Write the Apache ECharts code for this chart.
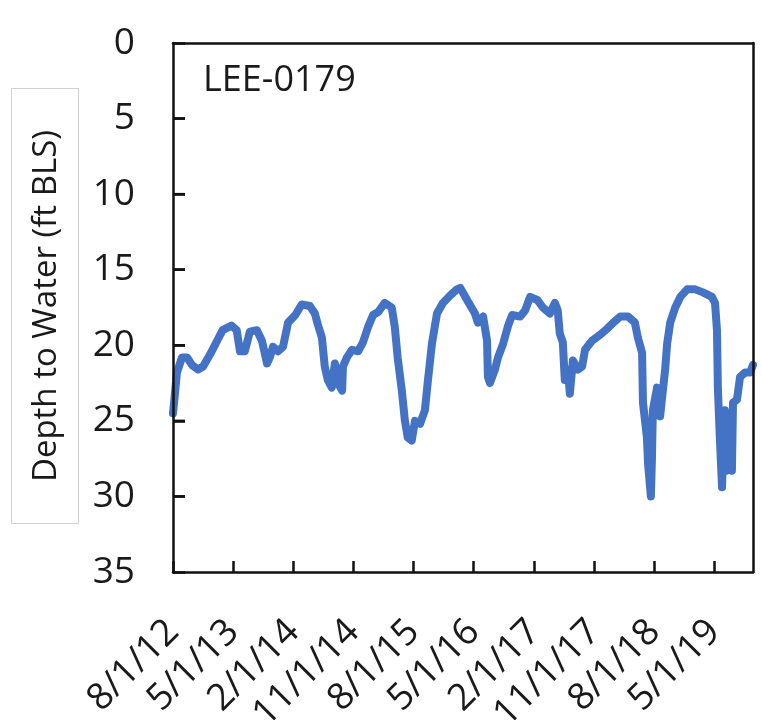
<!DOCTYPE html>
<html>
<head>
<meta charset="utf-8">
<script src="https://cdn.jsdelivr.net/npm/echarts@6/dist/echarts.min.js"></script>
<style>
html,body{margin:0;padding:0;background:#fff;}
#chart{width:762px;height:720px;}
</style>
</head>
<body>
<div id="chart"></div>
<script>
const wellName = 'LEE-0179';
const yTitle = 'Depth to Water (ft BLS)';
const xTickLabels = ['8/1/12','5/1/13','2/1/14','11/1/14','8/1/15','5/1/16','2/1/17','11/1/17','8/1/18','5/1/19'];
const xMinDate = '2012-08-01';
const xMaxDate = '2019-10-25';
const yMin = 0, yMax = 35, yStep = 5;

const dates = [
'2012-08-01','2012-08-19','2012-09-11','2012-10-04','2012-10-26','2012-11-23','2012-12-16','2013-01-17','2013-02-18','2013-03-15',
'2013-04-25','2013-05-18','2013-06-02','2013-06-24','2013-07-17','2013-08-18','2013-09-10','2013-10-03','2013-10-16','2013-10-30',
'2013-11-22','2013-12-15','2014-01-07','2014-02-09','2014-03-10','2014-04-16','2014-05-09','2014-05-22','2014-06-10','2014-06-23',
'2014-07-07','2014-07-25','2014-08-08','2014-08-22','2014-09-10','2014-09-14','2014-10-02','2014-10-25','2014-11-22','2014-12-14',
'2015-01-06','2015-01-29','2015-02-21','2015-03-23','2015-04-24','2015-05-08','2015-05-21','2015-06-09','2015-06-23','2015-07-06',
'2015-07-24','2015-08-08','2015-08-31','2015-09-22','2015-10-06','2015-10-24','2015-11-16','2015-12-13','2016-01-15','2016-02-15',
'2016-03-01','2016-04-01','2016-05-07','2016-05-20','2016-06-13','2016-07-01','2016-07-05','2016-07-14','2016-08-06','2016-08-20',
'2016-09-12','2016-10-05','2016-10-23','2016-11-29','2016-12-21','2017-01-13','2017-02-15','2017-03-12','2017-04-13','2017-05-06',
'2017-05-19','2017-05-28','2017-06-11','2017-06-20','2017-07-04','2017-07-13','2017-07-27','2017-08-19','2017-09-07','2017-09-20',
'2017-10-22','2017-11-28','2017-12-30','2018-01-27','2018-02-28','2018-04-04','2018-05-05','2018-05-19','2018-06-07','2018-06-11',
'2018-06-29','2018-07-04','2018-07-17','2018-07-22','2018-07-26','2018-08-14','2018-08-28','2018-09-11','2018-09-20','2018-09-29',
'2018-10-13','2018-11-05','2018-11-28','2018-12-29','2019-02-04','2019-03-11','2019-04-21','2019-05-05','2019-05-14','2019-05-18',
'2019-05-27','2019-06-06','2019-06-10','2019-06-19','2019-06-28','2019-07-03','2019-07-21','2019-07-26','2019-08-13','2019-08-27',
'2019-09-19','2019-10-12','2019-10-25'
];
const depth = [
24.5,21.8,20.8,20.8,21.3,21.6,21.4,20.6,19.7,19.0,
18.7,19.0,20.4,20.4,19.1,19.0,19.7,21.2,20.8,20.1,
20.4,20.1,18.5,18.0,17.3,17.4,17.9,18.6,19.5,21.4,
22.3,22.8,21.2,22.5,23.0,21.4,20.8,20.3,20.4,19.8,
18.8,18.0,17.8,17.2,17.5,18.8,20.8,23.0,25.0,26.1,
26.3,25.0,25.2,24.3,22.3,19.9,17.9,17.2,16.7,16.3,
16.2,17.0,17.9,18.5,18.1,19.7,22.1,22.5,21.6,20.8,
19.9,18.7,18.0,18.1,17.7,16.8,17.0,17.5,17.9,17.2,
17.7,19.2,19.8,22.3,21.6,23.2,21.0,21.6,21.4,20.3,
19.7,19.3,18.9,18.5,18.1,18.1,18.5,19.5,20.5,23.8,
26.1,27.8,30.0,27.4,24.3,22.8,24.7,22.8,21.6,19.9,
18.5,17.5,16.8,16.3,16.3,16.5,16.8,17.2,19.0,22.8,
26.1,29.4,27.4,24.3,28.3,25.6,28.3,23.8,23.6,22.1,
21.8,21.8,21.3
];

const DAY = 86400000;
function utc(y,m,d){ return Date.UTC(y,m-1,d)/DAY; }
function parseISO(s){ const p=s.split('-').map(Number); return utc(p[0],p[1],p[2]); }
function parseMDY(s){ const p=s.split('/').map(Number); return utc(2000+p[2],p[0],p[1]); }
const base = parseISO(xMinDate);
const xMax = parseISO(xMaxDate)-base;
const tickValues = xTickLabels.map(s=>parseMDY(s)-base);
const tickMap = {}; tickValues.forEach((v,i)=>{ tickMap[v]=xTickLabels[i]; });
const seriesData = dates.map((d,i)=>[parseISO(d)-base, depth[i]]);

const FONT = '"Open Sans", "Noto Sans", sans-serif';
const AX = {color:'#111',width:2.5};
const chart = echarts.init(document.getElementById('chart'), null, {renderer:'canvas'});
const baseGraphics = [
  {type:'rect',left:9,top:86,shape:{width:67,height:435},style:{fill:'none',stroke:'#d0d0d0',lineWidth:1},silent:true},
  {type:'text',left:203,top:63,style:{text:wellName,font:'36px '+FONT,fill:'#1a1a1a'}},
  {type:'text',x:47,y:306,rotation:Math.PI/2,style:{text:yTitle,font:'33px '+FONT,fill:'#1a1a1a',align:'center',verticalAlign:'middle'}}
];
chart.setOption({
  animation:false,
  backgroundColor:'#ffffff',
  grid:{left:173,right:9,top:43,bottom:148,show:false,containLabel:false,outerBoundsMode:'none'},
  xAxis:[{
    type:'value',
    min:0,
    max:xMax,
    position:'bottom',
    z:5,
    axisLine:{show:true,onZero:false,lineStyle:AX},
    axisTick:{show:true,inside:true,length:11,lineStyle:AX,customValues:tickValues},
    axisLabel:{show:true,rotate:45,margin:54,fontSize:37,fontFamily:FONT,color:'#1a1a1a',
      customValues:tickValues,
      formatter:function(v){ return tickMap[Math.round(v)] || ''; }},
    splitLine:{show:false}
  },{
    type:'value',min:0,max:xMax,position:'top',z:5,
    axisLine:{show:true,onZero:false,lineStyle:AX},
    axisTick:{show:false},axisLabel:{show:false},splitLine:{show:false}
  }],
  yAxis:[{
    type:'value',
    inverse:true,
    min:yMin,max:yMax,interval:yStep,
    position:'left',
    z:5,
    axisLine:{show:true,onZero:false,lineStyle:AX},
    axisTick:{show:true,inside:true,length:12,lineStyle:AX},
    axisLabel:{show:true,fontSize:37,fontFamily:FONT,color:'#1a1a1a',margin:38},
    splitLine:{show:false}
  },{
    type:'value',inverse:true,min:yMin,max:yMax,interval:yStep,position:'right',z:5,
    axisLine:{show:true,onZero:false,lineStyle:AX},
    axisTick:{show:false},axisLabel:{show:false},splitLine:{show:false}
  }],
  graphic:baseGraphics,
  series:[{
    type:'line',
    xAxisIndex:0,yAxisIndex:0,
    data:seriesData,
    showSymbol:false,
    symbol:'none',
    lineStyle:{color:'#4472C4',width:8,cap:'round',join:'round'},
    clip:true
  }]
});

// Inside y-axis ticks, positioned through the axis scale
const x0 = chart.convertToPixel({xAxisIndex:0}, 0);
const tickGraphics = [];
for (let v = yMin + yStep; v < yMax; v += yStep) {
  const py = chart.convertToPixel({yAxisIndex:0}, v);
  tickGraphics.push({type:'line',z:10,silent:true,
    shape:{x1:x0, y1:py, x2:x0+12, y2:py},
    style:{stroke:'#111', lineWidth:2.5}});
}
chart.setOption({graphic: baseGraphics.concat(tickGraphics)});
</script>
</body>
</html>
